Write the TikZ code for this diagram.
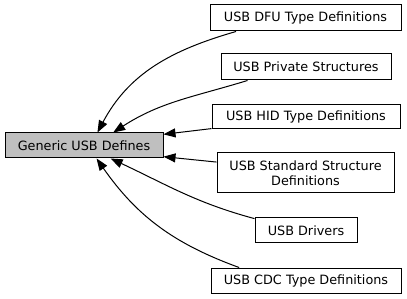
\documentclass[tikz,border=0pt]{standalone}
\usepackage{fontspec}
\setmainfont{DejaVu Sans}
\usepackage{tikz}
\usetikzlibrary{arrows.meta}
\definecolor{boxGrey}{RGB}{191,191,191}

\begin{document}
\begin{tikzpicture}[x=1pt, y=-1pt,
		module/.style={draw=black, line width=1pt, fill=white, inner sep=0pt, align=center,
			font=\fontsize{12.8}{15}\selectfont},
		link/.style={line width=1pt, {Triangle[length=12pt, width=9pt]}-}]
				
				\useasboundingbox (0,0) rectangle (407,299);
				
				\node [module, fill=boxGrey, minimum width=158pt, minimum height=25pt] (gen) at (84,145.5) {Generic USB Defines};
				\node [module, minimum width=191pt, minimum height=26pt] (dfu) at (305.5,18) {USB DFU Type Definitions};
				\node [module, minimum width=170pt, minimum height=26pt] (priv) at (306,67) {USB Private Structures};
				\node [module, minimum width=188pt, minimum height=24pt] (hid) at (306,117) {USB HID Type Definitions};
				\node [module, minimum width=177pt, minimum height=40pt] (std) at (305.5,173) {USB Standard Structure\\Definitions};
				\node [module, minimum width=102pt, minimum height=25pt] (drv) at (306,230.5) {USB Drivers};
				\node [module, minimum width=190pt, minimum height=25pt] (cdc) at (306,280.5) {USB CDC Type Definitions};
				
				\draw [link] (gen.44) to [in=196, out=62] (dfu.191);
				\draw [link] (gen.24) to [in=197, out=33] (priv.193);
				\draw [link] (gen.8) -- (hid.187);
				\draw [link] (gen.-8) -- (std.173);
				\draw [link] (gen.-26) to [in=165, out=-25] (drv.167);
				\draw [link] (gen.-46) to [in=160, out=-55] (cdc.169);
			\end{tikzpicture}
\end{document}
